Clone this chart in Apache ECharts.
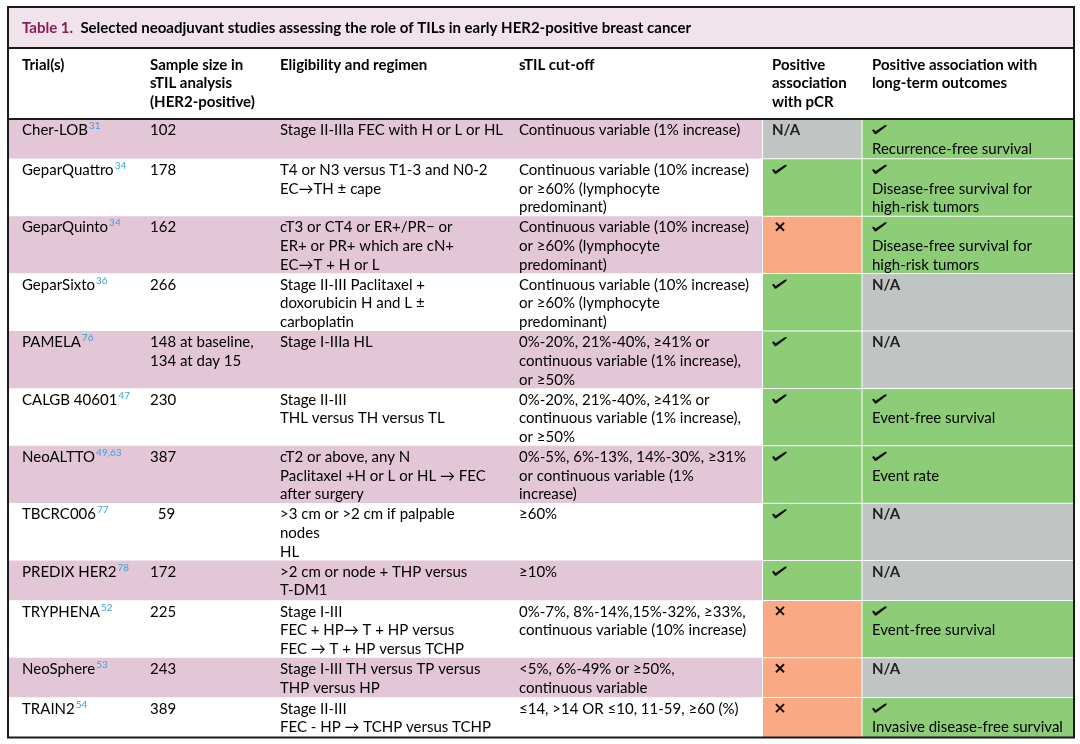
<!DOCTYPE html>
<html>
<head>
<meta charset="utf-8">
<title>Table 1</title>
<script src="https://cdn.jsdelivr.net/npm/echarts@6/dist/echarts.min.js"></script>
<style>
html, body { margin: 0; padding: 0; background: #fff; }
#chart { width: 1080px; height: 744px; }
</style>
</head>
<body>
<div id="chart"></div>
<script>
// table content
const tableLabel = 'Table 1.';
const tableTitle = 'Selected neoadjuvant studies assessing the role of TILs in early HER2-positive breast cancer';
const headers = [
    'Trial(s)',
    'Sample size in\nsTIL analysis\n(HER2-positive)',
    'Eligibility and regimen',
    'sTIL cut-off',
    'Positive\nassociation\nwith pCR',
    'Positive association with\nlong-term outcomes'
];
const trials = ['Cher-LOB', 'GeparQuattro', 'GeparQuinto', 'GeparSixto', 'PAMELA', 'CALGB 40601',
    'NeoALTTO', 'TBCRC006', 'PREDIX HER2', 'TRYPHENA', 'NeoSphere', 'TRAIN2'];
const refs = ['31', '34', '34', '36', '76', '47', '49,63', '77', '78', '52', '53', '54'];
const sampleSize = ['102', '178', '162', '266', '148 at baseline,\n134 at day 15', '230', '387',
    '  59', '172', '225', '243', '389'];
const eligibility = [
    'Stage II-IIIa FEC with H or L or HL',
    'T4 or N3 versus T1-3 and N0-2\nEC\u2192TH \u00b1 cape',
    'cT3 or CT4 or ER+/PR\u2212 or\nER+ or PR+ which are cN+\nEC\u2192T + H or L',
    'Stage II-III Paclitaxel +\ndoxorubicin H and L \u00b1\ncarboplatin',
    'Stage I-IIIa HL',
    'Stage II-III\nTHL versus TH versus TL',
    'cT2 or above, any N\nPaclitaxel +H or L or HL \u2192 FEC\nafter surgery',
    '>3 cm or >2 cm if palpable\nnodes\nHL',
    '>2 cm or node + THP versus\nT-DM1',
    'Stage I-III\nFEC + HP\u2192 T + HP versus\nFEC \u2192 T + HP versus TCHP',
    'Stage I-III TH versus TP versus\nTHP versus HP',
    'Stage II-III\nFEC - HP \u2192 TCHP versus TCHP'
];
const cutoff = [
    'Continuous variable (1% increase)',
    'Continuous variable (10% increase)\nor \u226560% (lymphocyte\npredominant)',
    'Continuous variable (10% increase)\nor \u226560% (lymphocyte\npredominant)',
    'Continuous variable (10% increase)\nor \u226560% (lymphocyte\npredominant)',
    '0%-20%, 21%-40%, \u226541% or\ncontinuous variable (1% increase),\nor \u226550%',
    '0%-20%, 21%-40%, \u226541% or\ncontinuous variable (1% increase),\nor \u226550%',
    '0%-5%, 6%-13%, 14%-30%, \u226531%\nor continuous variable (1%\nincrease)',
    '\u226560%',
    '\u226510%',
    '0%-7%, 8%-14%,15%-32%, \u226533%,\ncontinuous variable (10% increase)',
    '<5%, 6%-49% or \u226550%,\ncontinuous variable',
    '\u226414, >14 OR \u226410, 11-59, \u226560 (%)'
];
// pCR association: 'yes', 'no', 'na'
const pcr = ['na', 'yes', 'no', 'yes', 'yes', 'yes', 'yes', 'yes', 'yes', 'no', 'no', 'no'];
// long-term outcome with positive association, '' = N/A
const outcome = [
    'Recurrence-free survival',
    'Disease-free survival for\nhigh-risk tumors',
    'Disease-free survival for\nhigh-risk tumors',
    '', '',
    'Event-free survival',
    'Event rate',
    '', '',
    'Event-free survival',
    '',
    'Invasive disease-free survival'
];

// layout
const COLS = [0, 130, 260, 499, 754, 854, 1066];
const PAD_X = [14, 12, 12, 12, 10, 10];
const TITLE_H = 41, HEAD_H = 71, LINE = 17.6, ROW_PAD = 4.6, TEXT_LH = 18.7;
const PINK = '#E3C7D7', TITLE_BG = '#F1E3EB', GREEN = '#8DCD78', ORANGE = '#F9A983', GREY = '#C0C5C4';
const FONT = 'Lato, "Open Sans", sans-serif';
const FS = 15;

function nLines(s) { return s ? s.split('\n').length : 0; }

const rowLines = trials.map(function(t, i) {
    return Math.max(nLines(sampleSize[i]), nLines(eligibility[i]), nLines(cutoff[i]), 1 + nLines(outcome[i]));
});
const rowH = rowLines.map(function(n) { return n * LINE + ROW_PAD; });
const rowTop = [];
let acc = TITLE_H + HEAD_H;
rowH.forEach(function(h) { rowTop.push(acc); acc += h; });
const TOTAL = acc;

function textEl(x, y, text, extra) {
    const style = Object.assign({
        text: text, x: x, y: y,
        fill: '#000',
        fontSize: FS, fontFamily: FONT,
        lineHeight: TEXT_LH,
        align: 'left', verticalAlign: 'top',
        textAlign: 'left', textVerticalAlign: 'top'
    }, extra || {});
    return { type: 'text', style: style };
}

function rectEl(p0, p1, fill) {
    return { type: 'rect', shape: { x: p0[0], y: p0[1], width: p1[0] - p0[0], height: p1[1] - p0[1] }, style: { fill: fill } };
}

// brush-like check glyph, drawn relative to the cell text origin
const CHECK_SHAPE = [[0, 5.2], [1.8, 4.2], [3.6, 6.3], [12.6, 0.2], [15, 0], [14.2, 1.6], [4.4, 9], [2.8, 9.2]];
function checkEl(p) {
    return {
        type: 'polygon',
        shape: { points: CHECK_SHAPE.map(function(q) { return [p[0] + q[0], p[1] + 4 + q[1]]; }) },
        style: { fill: '#111' }
    };
}

function crossEl(p) {
    const x = p[0] + 4, y = p[1] + 4.5, s = 8;
    return {
        type: 'group',
        children: [
            { type: 'line', shape: { x1: x, y1: y, x2: x + s, y2: y + s }, style: { stroke: '#111', lineWidth: 2 } },
            { type: 'line', shape: { x1: x + s, y1: y, x2: x, y2: y + s }, style: { stroke: '#111', lineWidth: 2 } }
        ]
    };
}

function renderRow(params, api) {
    const i = api.value(0);
    const top = rowTop[i], bottom = top + rowH[i];
    const children = [];
    children.push(rectEl(api.coord([COLS[0], top]), api.coord([COLS[4], bottom]), i % 2 === 0 ? PINK : '#fff'));
    const pcrFill = pcr[i] === 'yes' ? GREEN : (pcr[i] === 'no' ? ORANGE : GREY);
    children.push(rectEl(api.coord([COLS[4] + 1, top + 0.5]), api.coord([COLS[5] - 0.5, bottom - 0.5]), pcrFill));
    children.push(rectEl(api.coord([COLS[5] + 0.5, top + 0.5]), api.coord([COLS[6], bottom - 0.5]), outcome[i] ? GREEN : GREY));

    const ty = top + 2;
    let p = api.coord([COLS[0] + PAD_X[0], ty]);
    children.push(textEl(p[0], p[1], trials[i] + '{sup|' + refs[i] + '}', {
        rich: { sup: { fontSize: 10, fontFamily: FONT, fill: '#3F9FD6', verticalAlign: 'top', lineHeight: 11, padding: [0, 0, 0, 1] } }
    }));
    p = api.coord([COLS[1] + PAD_X[1], ty]);
    children.push(textEl(p[0], p[1], sampleSize[i]));
    p = api.coord([COLS[2] + PAD_X[2], ty]);
    children.push(textEl(p[0], p[1], eligibility[i]));
    p = api.coord([COLS[3] + PAD_X[3], ty]);
    children.push(textEl(p[0], p[1], cutoff[i]));

    p = api.coord([COLS[4] + PAD_X[4], ty]);
    if (pcr[i] === 'na') children.push(textEl(p[0], p[1], 'N/A', { fontWeight: 'bold', fill: '#222' }));
    else if (pcr[i] === 'yes') children.push(checkEl(p));
    else children.push(crossEl(p));

    p = api.coord([COLS[5] + PAD_X[5], ty]);
    if (outcome[i]) {
        children.push(checkEl(p));
        children.push(textEl(p[0], p[1] + TEXT_LH, outcome[i]));
    } else {
        children.push(textEl(p[0], p[1], 'N/A', { fontWeight: 'bold', fill: '#222' }));
    }
    return { type: 'group', children: children };
}

function renderFrame(params, api) {
    const children = [];
    const a = api.coord([COLS[0], 0]), b = api.coord([COLS[6], TITLE_H]);
    children.push(rectEl(a, b, TITLE_BG));
    const tp = api.coord([COLS[0] + PAD_X[0], TITLE_H / 2 + 1]);
    children.push(textEl(tp[0], tp[1], '{lab|' + tableLabel + '}  ' + tableTitle, {
        fontWeight: 'bold', verticalAlign: 'middle', textVerticalAlign: 'middle', fill: '#000',
        rich: { lab: { fontSize: FS, fontFamily: FONT, fontWeight: 'bold', fill: '#8C1D5B' } }
    }));
    headers.forEach(function(h, c) {
        const p = api.coord([COLS[c] + PAD_X[c], TITLE_H + 7.5]);
        children.push(textEl(p[0], p[1], h, { fontWeight: 'bold' }));
    });
    // rules
    [TITLE_H, TITLE_H + HEAD_H].forEach(function(y) {
        const l = api.coord([COLS[0], y]), r = api.coord([COLS[6], y]);
        children.push({ type: 'line', shape: { x1: l[0], y1: l[1], x2: r[0], y2: r[1] }, style: { stroke: '#1a1a1a', lineWidth: 2 } });
    });
    const f0 = api.coord([COLS[0], 0]), f1 = api.coord([COLS[6], TOTAL]);
    children.push({ type: 'rect', shape: { x: f0[0], y: f0[1], width: f1[0] - f0[0], height: f1[1] - f0[1] },
        style: { fill: 'none', stroke: '#1a1a1a', lineWidth: 2 } });
    return { type: 'group', children: children };
}

const myChart = echarts.init(document.getElementById('chart'));
const option = {
    backgroundColor: '#fff',
    animation: false,
    grid: { left: 8, top: 7, width: COLS[6], height: TOTAL },
    xAxis: { type: 'value', min: 0, max: COLS[6], show: false },
    yAxis: { type: 'value', min: 0, max: TOTAL, inverse: true, show: false },
    series: [{
        type: 'custom',
        coordinateSystem: 'cartesian2d',
        clip: false,
        renderItem: renderRow,
        data: trials.map(function(t, i) { return [i, rowTop[i]]; }),
        z: 1
    }, {
        type: 'custom',
        coordinateSystem: 'cartesian2d',
        clip: false,
        renderItem: renderFrame,
        data: [[0, 0]],
        z: 2
    }]
};
myChart.setOption(option);
</script>
</body>
</html>
